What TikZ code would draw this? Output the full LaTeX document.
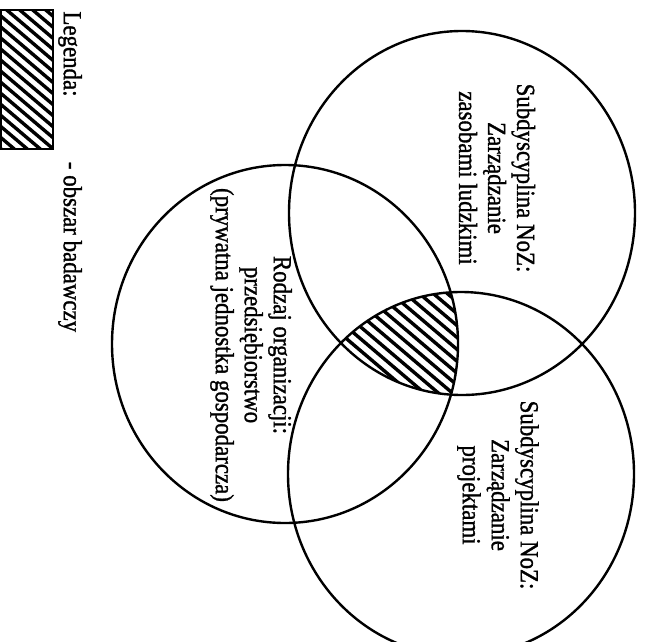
\documentclass[tikz,border=0pt]{standalone}
\usepackage{fontspec}
\setmainfont{Liberation Serif}
\newfontfamily\scanfont{Liberation Serif}[FakeBold=1.3]
\begin{document}
\begin{tikzpicture}[x=1pt,y=-1pt,
  ring/.style={line width=2.4pt},
  hatchline/.style={line width=3.4pt},
  lbl/.style={rotate=-90, xscale=0.88, align=center, font=\scanfont\fontsize{26}{29}\selectfont, inner sep=0pt}]
\useasboundingbox (0,0) rectangle (645,642);
% hatched triple intersection
\begin{scope}
  \clip (462,213) ellipse [x radius=173pt, y radius=182pt];
  \clip (285,344) ellipse [x radius=173pt, y radius=179pt];
  \clip (461,474) ellipse [x radius=173pt, y radius=182pt];
  \foreach \c in {250,264,...,600} \draw[hatchline] (\c-200,340-170) -- (\c+100,340+85);
\end{scope}
% circles
\draw[ring] (462,213) ellipse [x radius=173pt, y radius=182pt];
\draw[ring] (285,344) ellipse [x radius=173pt, y radius=179pt];
\draw[ring] (461,474) ellipse [x radius=173pt, y radius=182pt];
% labels
\node[lbl] (hr) at (497,178) {Subdyscyplina NoZ:\\Zarządzanie\\zasobami ludzkimi};
\node[lbl] (org) at (251,345) {Rodzaj organizacji:\\przedsiębiorstwo\\(prywatna jednostka gospodarcza)};
\node[lbl] (pm) at (498,495) {Subdyscyplina NoZ:\\Zarządzanie\\projektami};
% legend
\begin{scope}
  \clip (1,10) rectangle (53,149);
  \foreach \c in {-200,-187,...,100} \draw[line width=3.4pt] (\c,0) -- (\c+200,170);
\end{scope}
\node[draw, line width=2.3pt, minimum width=52pt, minimum height=139pt, inner sep=0pt] (box) at (27,79.5) {};
\node[lbl] (leg) at (70,54) {Legenda:};
\node[lbl] (desc) at (70,247) {- obszar badawczy};
\end{tikzpicture}
\end{document}
